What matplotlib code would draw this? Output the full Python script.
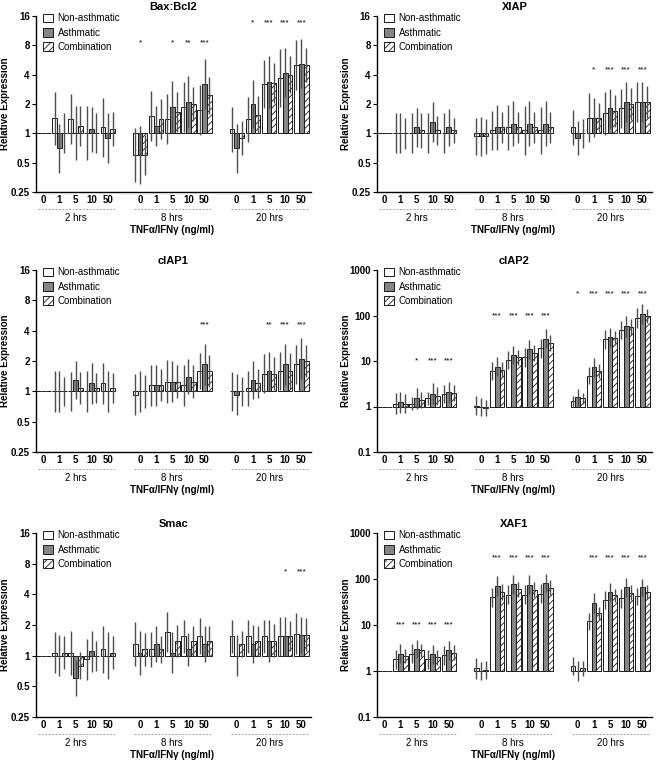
import matplotlib.pyplot as plt
from matplotlib.ticker import NullLocator
from matplotlib.transforms import offset_copy
import numpy as np

plt.rcParams['font.family'] = ['Liberation Sans', 'DejaVu Sans']
plt.rcParams['hatch.linewidth'] = 0.6

# x categories
doses = ['0', '1', '5', '10', '50']
groups = ['2 hrs', '8 hrs', '20 hrs']
series_names = ['Non-asthmatic', 'Asthmatic', 'Combination']

# values (2 hrs, 8 hrs, 20 hrs x 5 doses)
# *_f = fold of the error bar (log-symmetric)
bax_non = [1, 1.42, 1.4, 1.0, 1.15, 0.6, 1.5, 1.4, 1.85, 1.75, 1.1, 1.4, 3.2, 3.7, 5.0]
bax_asth = [1, 0.7, 1.0, 1.1, 0.9, 0.6, 1.2, 1.85, 2.1, 3.2, 0.7, 2.0, 3.4, 4.2, 5.2]
bax_comb = [1, 1.0, 1.2, 1.0, 1.1, 0.6, 1.4, 1.65, 2.0, 2.45, 0.9, 1.55, 3.3, 4.0, 5.0]
bax_non_f = [1, 1.85, 1.8, 1.9, 2.0, 1.9, 1.8, 1.8, 1.8, 1.8, 1.7, 1.7, 1.75, 2.0, 1.8]
bax_asth_f = [1, 1.8, 1.9, 1.7, 1.8, 2.0, 1.6, 1.85, 1.85, 1.8, 1.8, 1.75, 1.85, 1.8, 1.8]
bax_comb_f = [1, 1.6, 1.6, 1.6, 1.5, 1.6, 1.6, 1.6, 1.5, 1.55, 1.5, 1.55, 1.6, 1.55, 1.5]
bax_stars = ['', '', '', '', '', '*', '', '*', '**', '***', '', '*', '***', '***', '***']
bax_star_y = [None, 8.4, 13.5]

xiap_non = [1, 1.0, 1.0, 1.0, 1.0, 0.93, 1.07, 1.15, 1.07, 1.07, 1.15, 1.45, 1.6, 1.8, 2.1]
xiap_asth = [1, 1.0, 1.15, 1.3, 1.15, 0.93, 1.15, 1.25, 1.25, 1.25, 0.9, 1.45, 1.8, 2.1, 2.1]
xiap_comb = [1, 1.0, 1.07, 1.07, 1.07, 0.93, 1.15, 1.15, 1.15, 1.15, 1.0, 1.45, 1.7, 2.0, 2.1]
xiap_non_f = [1, 1.6, 1.6, 1.6, 1.6, 1.55, 1.6, 1.7, 1.8, 1.75, 1.5, 1.8, 1.65, 1.6, 1.6]
xiap_asth_f = [1, 1.6, 1.6, 1.6, 1.55, 1.6, 1.7, 1.7, 1.7, 1.7, 1.5, 1.6, 1.6, 1.6, 1.6]
xiap_comb_f = [1, 1.45, 1.5, 1.4, 1.35, 1.5, 1.45, 1.45, 1.45, 1.45, 1.4, 1.4, 1.45, 1.45, 1.45]
xiap_stars = ['', '', '', '', '', '', '', '', '', '', '', '*', '***', '***', '***']
xiap_star_y = [None, None, 4.5]

ciap1_non = [1, 1.0, 1.0, 1.0, 1.2, 0.93, 1.15, 1.25, 1.15, 1.6, 1.0, 1.07, 1.5, 1.6, 1.85]
ciap1_asth = [1, 1.0, 1.3, 1.2, 1.0, 1.0, 1.15, 1.25, 1.4, 1.85, 0.93, 1.3, 1.6, 1.85, 2.1]
ciap1_comb = [1, 1.0, 1.08, 1.08, 1.08, 1.0, 1.15, 1.25, 1.25, 1.6, 1.0, 1.2, 1.5, 1.6, 2.0]
ciap1_non_f = [1, 1.6, 1.55, 1.6, 1.6, 1.6, 1.6, 1.65, 1.6, 1.5, 1.55, 1.5, 1.55, 1.55, 1.55]
ciap1_asth_f = [1, 1.6, 1.55, 1.6, 1.6, 1.6, 1.6, 1.6, 1.5, 1.6, 1.6, 1.55, 1.55, 1.6, 1.6]
ciap1_comb_f = [1, 1.4, 1.45, 1.4, 1.4, 1.45, 1.45, 1.45, 1.45, 1.45, 1.4, 1.4, 1.45, 1.5, 1.45]
ciap1_stars = ['', '', '', '', '', '', '', '', '', '***', '', '', '**', '***', '***']
ciap1_star_y = [None, 4.6, 4.6]

ciap2_non = [1, 1.15, 1.15, 1.5, 1.9, 1.05, 6.0, 10.5, 12, 19, 1.3, 4.8, 30, 48, 88]
ciap2_asth = [1, 1.25, 1.5, 1.9, 2.1, 0.97, 7.5, 13.5, 18, 31, 1.6, 7.2, 33, 58, 110]
ciap2_comb = [1, 1.15, 1.4, 1.7, 2.0, 0.95, 6.5, 12, 15, 25, 1.5, 6.0, 32, 55, 98]
ciap2_non_f = [1, 1.7, 1.4, 1.4, 1.6, 1.65, 1.55, 1.55, 1.6, 1.6, 1.3, 1.55, 1.6, 1.6, 1.65]
ciap2_asth_f = [1, 1.7, 1.7, 1.7, 1.65, 1.6, 1.6, 1.6, 1.6, 1.6, 1.55, 1.6, 1.65, 1.7, 1.65]
ciap2_comb_f = [1, 1.6, 1.5, 1.6, 1.5, 1.5, 1.45, 1.45, 1.5, 1.5, 1.35, 1.4, 1.45, 1.5, 1.4]
ciap2_stars = ['', '', '*', '***', '***', '', '***', '***', '***', '***', '*', '***', '***', '***', '***']
ciap2_star_y = [10, 100, 300]

smac_non = [1, 1.07, 1.07, 0.92, 1.15, 1.3, 1.15, 1.7, 1.55, 1.55, 1.55, 1.55, 1.55, 1.55, 1.65]
smac_asth = [1, 1.0, 0.6, 1.1, 1.0, 1.07, 1.3, 1.07, 1.15, 1.3, 1.0, 1.3, 1.4, 1.55, 1.6]
smac_comb = [1, 1.07, 0.8, 1.0, 1.07, 1.15, 1.15, 1.4, 1.4, 1.4, 1.3, 1.4, 1.4, 1.55, 1.6]
smac_non_f = [1, 1.6, 1.65, 1.6, 1.7, 1.65, 1.5, 1.57, 1.45, 1.5, 1.45, 1.45, 1.45, 1.55, 1.6]
smac_asth_f = [1, 1.6, 1.5, 1.6, 1.7, 1.65, 1.5, 1.6, 1.45, 1.5, 1.6, 1.55, 1.6, 1.55, 1.5]
smac_comb_f = [1, 1.45, 1.35, 1.4, 1.45, 1.45, 1.35, 1.43, 1.4, 1.4, 1.35, 1.4, 1.45, 1.4, 1.45]
smac_stars = ['', '', '', '', '', '', '', '', '', '', '', '', '', '*', '***']
smac_star_y = [None, None, 6.6]

xaf1_non = [1, 1.8, 2.4, 1.8, 2.2, 1.15, 40, 46, 46, 48, 1.3, 12, 35, 38, 42]
xaf1_asth = [1, 2.4, 3.0, 2.3, 2.8, 1.0, 70, 76, 75, 82, 1.0, 30, 52, 66, 66]
xaf1_comb = [1, 2.1, 2.8, 2.0, 2.5, 1.05, 52, 60, 58, 64, 1.15, 18, 44, 50, 52]
xaf1_non_f = [1, 1.6, 1.6, 1.6, 1.6, 1.7, 1.6, 1.6, 1.6, 1.6, 1.55, 1.55, 1.6, 1.6, 1.55]
xaf1_asth_f = [1, 1.57, 1.6, 1.6, 1.6, 1.6, 1.65, 1.6, 1.6, 1.6, 1.65, 1.65, 1.6, 1.6, 1.55]
xaf1_comb_f = [1, 1.42, 1.4, 1.45, 1.45, 1.55, 1.47, 1.45, 1.45, 1.45, 1.45, 1.4, 1.4, 1.45, 1.4]
xaf1_stars = ['', '***', '***', '***', '***', '', '***', '***', '***', '***', '', '***', '***', '***', '***']
xaf1_star_y = [10, 285, 285]

# slot positions: 5 doses per group, 1 empty slot pair between groups
slots = np.array([g * 6 + i for g in range(3) for i in range(5)])

LOG2_TICKS = [0.25, 0.5, 1, 2, 4, 8, 16]
LOG2_LABELS = ['0.25', '0.5', '1', '2', '4', '8', '16']
LOG10_TICKS = [0.1, 1, 10, 100, 1000]
LOG10_LABELS = ['0.1', '1', '10', '100', '1000']


def under_text(ax, fig, x, dy, s, **kw):
    """text under the x axis, dy pixels below the spine"""
    trans = offset_copy(ax.get_xaxis_transform(), fig=fig, y=-dy, units='dots')
    ax.text(x, 0, s, transform=trans, ha='center', va='center', fontsize=7,
            clip_on=False, **kw)


def draw_panel(fig, rect, title, values, folds, stars, star_y, log10=False):
    ax = fig.add_axes(rect)
    w = 0.3
    styles = [dict(facecolor='white'),
              dict(facecolor='0.52'),
              dict(facecolor='white', hatch='/////')]
    for k in range(3):
        v = np.array(values[k], dtype=float)
        f = np.array(folds[k], dtype=float)
        x = slots + (k - 1) * w
        ax.bar(x, v - 1, bottom=1, width=w, edgecolor='0.1', linewidth=0.7,
               label=series_names[k], zorder=2, **styles[k])
        ax.errorbar(x, v, yerr=[v - v / f, v * f - v], fmt='none', ecolor='0.3',
                    elinewidth=1.0, capsize=0, zorder=3)

    # significance stars
    for i, s in enumerate(stars):
        if s:
            ax.text(slots[i], star_y[i // 5], s, ha='center', va='center', fontsize=6)

    if log10:
        ax.set_yscale('log')
        ax.set_ylim(0.1, 1000)
        ax.set_yticks(LOG10_TICKS)
        ax.set_yticklabels(LOG10_LABELS, fontweight='bold', fontsize=7)
    else:
        ax.set_yscale('log', base=2)
        ax.set_ylim(0.25, 16)
        ax.set_yticks(LOG2_TICKS)
        ax.set_yticklabels(LOG2_LABELS, fontweight='bold', fontsize=7)
    ax.yaxis.set_minor_locator(NullLocator())
    ax.tick_params(axis='y', length=3, width=0.8, pad=1.5)

    ax.set_xlim(-0.45, 16.6)
    ax.set_xticks(slots)
    ax.set_xticklabels(doses * 3, fontweight='bold', fontsize=7)
    ax.tick_params(axis='x', length=0, pad=2.5)

    for side in ['top', 'right']:
        ax.spines[side].set_visible(False)
    for side in ['left', 'bottom']:
        ax.spines[side].set_linewidth(1.0)

    # dashed group lines and group names under the dose labels
    for g in range(3):
        trans = offset_copy(ax.get_xaxis_transform(), fig=fig, y=-17, units='dots')
        ax.plot([g * 6 - 0.35, g * 6 + 4.45], [0, 0], transform=trans,
                ls=(0, (2, 1.5)), color='0.65', lw=0.7, clip_on=False)
        under_text(ax, fig, g * 6 + 2, 26, groups[g])
    under_text(ax, fig, 8, 38, 'TNFα/IFNγ (ng/ml)', fontweight='bold')

    ax.set_title(title, fontweight='bold', fontsize=8, pad=4)
    ax.set_ylabel('Relative Expression', fontweight='bold', fontsize=7)
    width_px = rect[2] * fig.bbox.width
    ax.yaxis.set_label_coords(-26 / width_px, 0.5)

    ax.legend(loc='upper left', bbox_to_anchor=(7 / width_px, 1.015), frameon=False,
              fontsize=7, handlelength=1.0, handleheight=1.0, handletextpad=0.5,
              labelspacing=0.45, borderpad=0, borderaxespad=0)
    return ax


fig = plt.figure(figsize=(6.57, 7.61), dpi=100)

L, R, W = 36 / 657, 377 / 657, 275 / 657
rows = [(1 - 192 / 761, 176 / 761), (1 - 452 / 761, 182 / 761), (1 - 717 / 761, 184 / 761)]

draw_panel(fig, [L, rows[0][0], W, rows[0][1]], 'Bax:Bcl2',
           [bax_non, bax_asth, bax_comb], [bax_non_f, bax_asth_f, bax_comb_f],
           bax_stars, bax_star_y)
draw_panel(fig, [R, rows[0][0], W, rows[0][1]], 'XIAP',
           [xiap_non, xiap_asth, xiap_comb], [xiap_non_f, xiap_asth_f, xiap_comb_f],
           xiap_stars, xiap_star_y)
draw_panel(fig, [L, rows[1][0], W, rows[1][1]], 'cIAP1',
           [ciap1_non, ciap1_asth, ciap1_comb], [ciap1_non_f, ciap1_asth_f, ciap1_comb_f],
           ciap1_stars, ciap1_star_y)
draw_panel(fig, [R, rows[1][0], W, rows[1][1]], 'cIAP2',
           [ciap2_non, ciap2_asth, ciap2_comb], [ciap2_non_f, ciap2_asth_f, ciap2_comb_f],
           ciap2_stars, ciap2_star_y, log10=True)
draw_panel(fig, [L, rows[2][0], W, rows[2][1]], 'Smac',
           [smac_non, smac_asth, smac_comb], [smac_non_f, smac_asth_f, smac_comb_f],
           smac_stars, smac_star_y)
draw_panel(fig, [R, rows[2][0], W, rows[2][1]], 'XAF1',
           [xaf1_non, xaf1_asth, xaf1_comb], [xaf1_non_f, xaf1_asth_f, xaf1_comb_f],
           xaf1_stars, xaf1_star_y, log10=True)

fig.savefig('out.png', dpi=100)
print("Pic saved to out.png")
